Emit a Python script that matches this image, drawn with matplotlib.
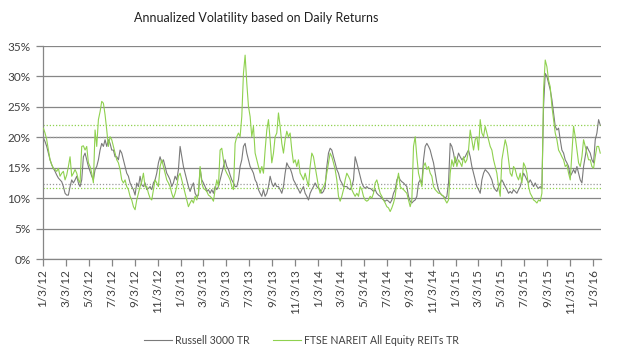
import matplotlib
matplotlib.use("Agg")
import matplotlib.pyplot as plt
from matplotlib.ticker import FuncFormatter
import pandas as pd

plt.rcParams['font.family'] = ['Lato', 'DejaVu Sans']

title = "Annualized Volatility based on Daily Returns"
series_names = ["Russell 3000 TR", "FTSE NAREIT All Equity REITs TR"]
start_date = "2012-01-04"
end_date = "2016-01-21"

russell = [
    19.9, 19.3, 18.5, 17.4, 16.3, 15.5, 14.9, 14.4, 13.8, 13.3,
    13.0, 12.7, 11.9, 10.8, 10.5, 10.5, 11.9, 13.0, 12.5, 13.0,
    13.6, 12.5, 11.9, 13.0, 16.8, 17.4, 16.3, 15.2, 14.4, 13.6,
    13.0, 14.7, 15.2, 16.3, 17.9, 19.0, 18.5, 19.6, 18.5, 19.6,
    19.0, 17.9, 17.9, 16.8, 16.8, 16.3, 17.9, 17.4, 16.3, 15.2,
    14.1, 13.6, 12.5, 11.9, 11.4, 10.5, 12.5, 11.9, 13.6, 12.2,
    11.9, 12.5, 11.4, 11.6, 11.9, 11.4, 12.5, 13.0, 14.1, 15.8,
    16.8, 15.8, 16.3, 15.2, 14.1, 13.6, 13.0, 11.9, 12.5, 13.6,
    13.0, 14.7, 18.5, 16.8, 15.2, 14.1, 13.0, 11.9, 11.1, 11.9,
    12.5, 10.8, 10.3, 10.5,
    14.9, 13.0, 12.5, 11.9, 11.1, 11.4, 10.8, 11.4, 10.8, 11.9,
    11.4, 11.9, 13.0, 14.1, 15.2, 16.3, 15.2, 14.7, 13.8, 13.0,
    12.5, 11.9, 11.9, 13.0, 15.2, 16.3, 18.5, 19.0, 17.4, 16.3,
    15.2, 14.7, 14.1, 13.0, 12.5, 11.4, 10.8, 10.3, 11.4, 10.3,
    10.8, 11.9, 13.6, 12.5, 11.9, 12.5, 11.9, 11.9, 11.4, 10.8,
    11.9, 14.1, 15.8, 15.2, 14.9, 14.1, 13.0, 12.5, 11.9, 11.4,
    10.8, 11.4, 11.9, 10.8, 10.3, 9.7, 10.8, 11.4, 11.9, 12.5,
    11.9, 11.6, 11.4, 10.8, 11.1, 11.9, 15.2, 17.4, 18.2, 17.9,
    16.8, 15.8, 14.7, 14.1, 13.0, 12.5, 11.9, 11.9, 11.9, 11.6,
    11.4, 11.9, 13.0, 16.8, 15.8, 14.7, 13.6, 12.5, 11.9, 11.6,
    11.9, 11.6, 11.6, 11.4, 11.1, 11.4, 10.8, 10.5, 10.3, 10.0,
    9.7, 9.5, 9.7, 9.5, 9.2, 9.7, 10.8, 11.4, 13.0, 13.6,
    13.0, 12.7, 12.5, 12.2, 11.9, 10.3, 9.5, 9.2, 9.5, 9.7,
    10.3, 12.5, 13.0, 12.5, 16.3, 18.5, 19.0, 18.5, 17.9, 16.8,
    15.8, 14.1, 12.5, 11.4, 10.8, 10.5, 10.3, 10.0, 10.3, 12.5,
    19.0, 18.5, 17.4, 15.8, 16.3, 17.4, 16.8, 16.3, 16.6, 16.8,
    17.4, 17.9, 16.8, 15.2, 14.1, 13.0, 11.9, 11.4, 10.8, 13.0,
    14.1, 14.7, 14.4, 14.1, 13.6, 13.0, 11.9, 11.4, 11.1, 11.9,
    12.5, 13.0, 12.5, 11.9, 11.4, 10.8, 11.1, 10.8, 11.4, 11.1,
    10.8, 11.4, 11.9, 13.0, 14.1, 13.6, 13.0, 12.5, 13.0, 12.5,
    11.9, 12.5, 11.9, 11.6, 11.9, 11.6, 25.1, 30.5, 30.0, 28.9,
    27.8, 26.2, 24.0, 21.8, 21.2, 21.5, 19.6, 17.9, 17.4, 16.3,
    15.8, 15.2, 13.6, 14.1, 14.7, 14.1, 15.2, 14.1, 13.0, 12.5,
    15.2, 16.8, 18.5, 17.9, 17.4, 16.3, 15.8, 19.6, 20.7, 22.9,
    22.0,
]

nareit = [
    21.5, 20.7, 19.6, 17.9, 16.3, 15.5, 14.9, 14.7, 14.4, 14.9,
    13.6, 14.1, 14.4, 13.0, 13.8, 15.2, 16.8, 13.6, 14.1, 14.7,
    14.1, 13.0, 12.5, 18.5, 18.6, 17.9, 18.5, 15.8, 15.2, 14.1,
    12.5, 21.2, 18.5, 22.9, 24.2, 25.9, 25.6, 23.7, 21.2, 18.5,
    20.1, 19.6, 18.5, 17.4, 16.3, 15.8, 14.7, 13.0, 12.5, 13.0,
    11.9, 11.4, 10.3, 9.7, 8.6, 8.1, 9.7, 10.8, 11.9, 12.7,
    14.1, 11.9, 11.9, 10.8, 10.0, 9.7, 11.4, 13.0, 12.5, 11.9,
    15.2, 16.3, 15.2, 14.1, 13.0, 12.5, 11.9, 10.8, 10.0, 10.8,
    11.9, 13.6, 14.1, 13.0, 11.9, 10.8, 9.7, 8.6, 9.2, 9.7,
    9.2, 10.3, 9.7, 10.8,
    15.2, 12.5, 11.6, 11.4, 11.1, 10.5, 10.3, 10.0, 9.5, 11.4,
    13.0, 11.9, 17.9, 18.2, 16.3, 14.7, 14.1, 13.6, 13.0, 11.9,
    11.4, 19.0, 20.1, 20.7, 20.1, 23.4, 30.5, 33.5, 28.9, 25.1,
    23.4, 20.1, 21.8, 17.4, 16.3, 15.2, 14.1, 15.2, 14.1, 17.9,
    21.2, 22.9, 19.6, 15.8, 17.4, 20.1, 20.7, 24.0, 21.8, 19.0,
    17.4, 19.6, 21.0, 20.1, 20.7, 17.9, 15.8, 16.3, 15.2, 16.3,
    14.1, 13.6, 13.0, 14.1, 13.0, 11.9, 15.2, 17.4, 16.8, 15.2,
    13.6, 11.9, 10.8, 11.4, 11.9, 12.5, 14.1, 15.8, 17.4, 16.8,
    15.8, 14.7, 13.0, 10.3, 9.5, 10.3, 11.4, 13.0, 14.1, 13.6,
    13.0, 11.4, 10.8, 10.3, 10.8, 10.3, 11.9, 11.4, 10.3, 9.7,
    9.5, 9.7, 10.3, 10.0, 10.8, 12.5, 13.0, 11.9, 10.8, 10.3,
    9.7, 9.2, 8.6, 8.4, 7.8, 8.4, 9.2, 10.3, 12.5, 14.1,
    11.9, 11.6, 11.4, 11.1, 10.8, 9.7, 8.6, 9.7, 18.5, 20.1,
    16.8, 14.1, 13.0, 11.9, 15.2, 15.8, 14.7, 15.2, 14.1, 13.6,
    11.9, 11.4, 11.1, 10.8, 10.8, 10.5, 10.3, 9.7, 9.2, 9.7,
    14.1, 16.3, 15.2, 16.8, 15.2, 16.3, 15.8, 15.2, 16.8, 15.8,
    16.3, 17.9, 21.2, 19.6, 17.9, 19.6, 20.1, 17.9, 22.9, 20.7,
    20.1, 21.8, 20.7, 19.6, 18.5, 17.9, 16.3, 15.2, 14.1, 11.9,
    10.3, 16.3, 17.9, 19.6, 18.5, 16.3, 14.1, 13.6, 15.2, 14.7,
    13.6, 13.0, 14.1, 12.5, 15.8, 15.2, 14.1, 11.9, 10.8, 10.3,
    9.7, 9.5, 9.2, 9.7, 9.5, 10.8, 27.8, 32.7, 31.6, 29.4,
    28.3, 25.1, 22.9, 20.7, 19.6, 17.9, 17.4, 16.8, 16.3, 15.2,
    15.5, 14.1, 13.0, 17.4, 21.8, 20.1, 17.9, 15.8, 15.2, 16.8,
    19.6, 18.5, 17.4, 16.3, 16.3, 15.2, 14.9, 16.8, 18.5, 18.5,
    17.4,
]

# Reference (dotted) levels, %
russell_levels = [20.0, 12.3]
nareit_levels = [22.0, 11.6]

y_ticks = [0, 5, 10, 15, 20, 25, 30, 35]

dates = pd.date_range(start_date, end_date, periods=len(russell))

gray = "#7a7a7a"
green = "#8fd14f"
grid_c = "#868686"

fig = plt.figure(figsize=(6.25, 3.52), dpi=100)
ax = fig.add_axes([0.0688, 0.2642, 0.8928, 0.6051])

for spine in ["top", "right"]:
    ax.spines[spine].set_visible(False)
for spine in ["left", "bottom"]:
    ax.spines[spine].set_color(grid_c)
    ax.spines[spine].set_linewidth(0.9)

ax.set_ylim(0, 35)
ax.set_yticks(y_ticks)
ax.yaxis.set_major_formatter(FuncFormatter(lambda v, p: f"{int(v)}%"))
ax.grid(axis="y", color=grid_c, linewidth=0.9)
ax.set_axisbelow(True)

x0 = pd.Timestamp("2012-01-03")
x1 = pd.Timestamp("2016-01-23")
ax.set_xlim(x0, x1)
xt = pd.date_range("2012-01-01", "2016-01-01", freq="2MS") + pd.Timedelta(days=2)
ax.set_xticks(xt)
ax.set_xticklabels([f"{d.month}/{d.day}/{d.year % 100}" for d in xt], rotation=90)

ax.tick_params(axis="both", colors=grid_c, labelcolor="#404040", labelsize=8.5,
               length=5, width=0.9)
ax.tick_params(axis="y", pad=4)
ax.tick_params(axis="x", pad=2)

for lv in russell_levels:
    ax.axhline(lv, color="#9a9a9a", linewidth=0.9, linestyle=(0, (1, 1.5)), zorder=1.5)
for lv in nareit_levels:
    ax.axhline(lv, color=green, linewidth=0.9, linestyle=(0, (1, 1.5)), zorder=1.5)

ax.plot(dates, russell, color=gray, linewidth=0.8, label=series_names[0], zorder=2)
ax.plot(dates, nareit, color=green, linewidth=0.8, label=series_names[1], zorder=3)

fig.text(0.41, 0.949, title, ha="center", va="center", fontsize=9, color="#202020")

leg = fig.legend(loc="center", bbox_to_anchor=(0.482, 0.034), ncol=2, frameon=False,
                 fontsize=7.6, handlelength=2.7, columnspacing=2.2, handletextpad=0.25)
for t in leg.get_texts():
    t.set_color("#404040")

fig.savefig("out.png", dpi=100)
